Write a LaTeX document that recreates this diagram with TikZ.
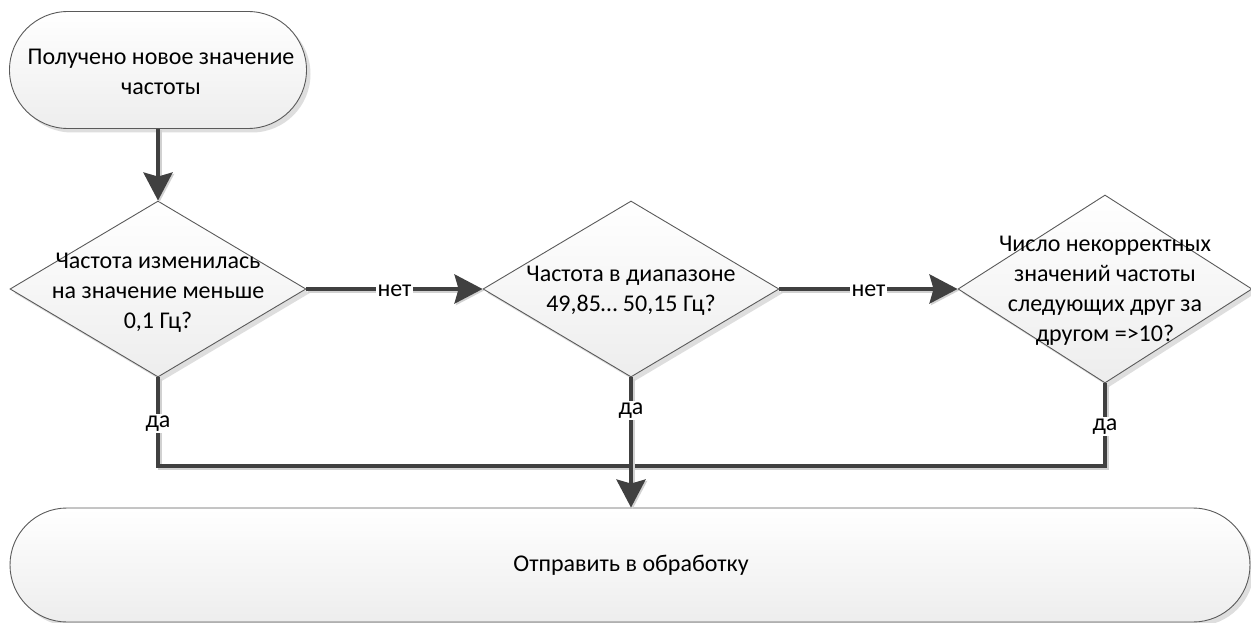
\documentclass[tikz,border=0pt]{standalone}
\usepackage{fontspec}
\setmainfont{Carlito}
\usetikzlibrary{shapes.geometric,shapes.misc,arrows.meta,shadows}
\definecolor{ln}{HTML}{404040}
\definecolor{bd}{HTML}{5A5A5A}
\begin{document}
\begin{tikzpicture}[x=1pt,y=-1pt,
 box/.style={draw=bd, line width=0.9pt, top color=white, bottom color=black!7,
   drop shadow={shadow xshift=4pt, shadow yshift=-4pt, fill=black!13, opacity=1}, inner sep=0pt},
 term/.style={box, rounded rectangle},
 dec/.style={box, diamond},
 txt/.style={font=\fontsize{24}{30}\selectfont, align=center, inner sep=0pt},
 conn/.style={draw=ln, line width=4pt,
   preaction={draw=black!18, line width=4pt, transform canvas={shift={(1.5pt,-1.5pt)}}}},
 arr/.style={conn, -{Stealth[length=28pt,width=29pt,inset=4pt]}},
 lab/.style={font=\fontsize{24}{26}\selectfont, fill=white, inner sep=1.5pt, yshift=-2pt}
]
\useasboundingbox (0,0) rectangle (1251,623);
\node[term, minimum width=297pt, minimum height=117pt] (start) at (158,70) {};
\node[txt] (startT) at (161,72) {Получено новое значение\\частоты};

\node[dec, minimum width=296pt, minimum height=176pt] (d1) at (158,289) {};
\node[txt] (d1T) at (158,293) {Частота изменилась\\на значение меньше\\0,1 Гц?};

\node[dec, minimum width=296pt, minimum height=176pt] (d2) at (631,289) {};
\node[txt] (d2T) at (631,291) {Частота в диапазоне\\49,85… 50,15 Гц?};

\node[dec, minimum width=294pt, minimum height=188pt] (d3) at (1105,289) {};
\node[txt] (d3T) at (1105,291) {Число некорректных\\значений частоты\\следующих друг за\\другом =>10?};

\node[term, minimum width=1240pt, minimum height=114pt] (end) at (630,565) {};
\node[txt] (endT) at (631,565) {Отправить в обработку};

\coordinate (jy) at (0,466);
\draw[arr] (start.south) -- (d1.north);
\draw[arr] (d1.east) -- node[lab]{нет} (d2.west);
\draw[arr] (d2.east) -- node[lab]{нет} (d3.west);
\draw[conn] (d1.south) -- node[lab]{да} (d1.south |- jy) -- (d3.south |- jy) -- node[lab]{да} (d3.south);
\draw[arr] (d2.south) -- node[lab, pos=0.24]{да} (d2.south |- end.north);
\end{tikzpicture}
\end{document}
